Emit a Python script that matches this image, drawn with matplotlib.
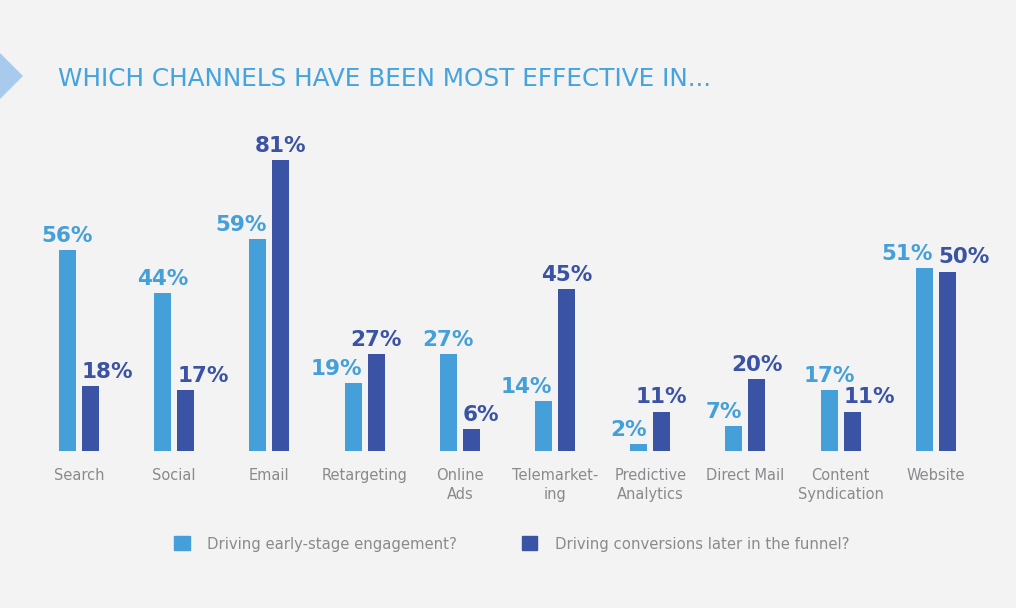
import matplotlib

matplotlib.use("Agg")
import matplotlib.pyplot as plt
import numpy as np
from matplotlib.patches import Patch, Polygon

plt.rcParams["font.family"] = ["DejaVu Sans"]

channels = [
    "Search", "Social", "Email", "Retargeting", "Online\nAds",
    "Telemarket-\ning", "Predictive\nAnalytics", "Direct Mail",
    "Content\nSyndication", "Website",
]
early_stage = [56, 44, 59, 19, 27, 14, 2, 7, 17, 51]
later_funnel = [18, 17, 81, 27, 6, 45, 11, 20, 11, 50]
series_names = ["Driving early-stage engagement?", "Driving conversions later in the funnel?"]
title = "WHICH CHANNELS HAVE BEEN MOST EFFECTIVE IN..."

# label placement relative to each bar (hand-nudged in the original)
early_ha = ["center", "center", "right", "right", "center", "right", "right", "right", "center", "right"]
later_ha = ["left", "left", "center", "center", "left", "center", "center", "center", "left", "left"]

LIGHT = "#45a0da"
DARK = "#3a53a4"
BG = "#f3f3f3"
GREY = "#8a8a8e"
W, H = 1016, 608

fig = plt.figure(figsize=(W / 100, H / 100), dpi=100, facecolor=BG)
ax = fig.add_axes([0, 0, 1, 1])
ax.set_facecolor(BG)
ax.set_axis_off()

# pixel layout: group pitch 95.2 px, first group at x=79, baseline at y=451, 3.59 px per %
pitch, x0, base, scale = 95.2, 79, 451, 3.59
ax.set_xlim(-x0 / pitch, (W - x0) / pitch)
ax.set_ylim(-(H - base) / scale, base / scale)

x = np.arange(len(channels))
bw = 17 / pitch
off = 11.5 / pitch
bars_early = ax.bar(x - off, early_stage, width=bw, color=LIGHT)
bars_later = ax.bar(x + off, later_funnel, width=bw, color=DARK)


def label_bars(bars, values, aligns, color):
    for bar, v, ha in zip(bars, values, aligns):
        if ha == "left":
            xa = bar.get_x()
        elif ha == "right":
            xa = bar.get_x() + bar.get_width()
        else:
            xa = bar.get_x() + bar.get_width() / 2
        ax.annotate(f"{v}%", (xa, v), xytext=(0, 5.8), textcoords="offset points",
                    ha=ha, va="baseline", fontsize=15.5, fontweight="bold", color=color)


label_bars(bars_early, early_stage, early_ha, LIGHT)
label_bars(bars_later, later_funnel, later_ha, DARK)

for i, name in enumerate(channels):
    ax.annotate(name, (i, 0), xytext=(0, -12), textcoords="offset points",
                ha="center", va="top", fontsize=10.5, color=GREY, linespacing=1.35)

fig.text(58 / W, 1 - 86 / H, title, fontsize=17.8, color="#45a3de", va="baseline")

arrow = Polygon([(0, 1 - 53 / H), (23 / W, 1 - 76 / H), (0, 1 - 99 / H)],
                closed=True, transform=fig.transFigure, color="#a8caec", lw=0)
fig.patches.append(arrow)

handles = [Patch(color=LIGHT), Patch(color=DARK)]
fig.legend(handles, series_names, loc="center left", bbox_to_anchor=(174 / W, 1 - 544 / H),
           ncol=2, frameon=False, fontsize=10.75, labelcolor=GREY,
           handlelength=1.05, handleheight=1.05, handletextpad=1.15,
           columnspacing=4.35, borderpad=0, borderaxespad=0)

fig.savefig("out.png", dpi=100, facecolor=BG)
plt.close(fig)
